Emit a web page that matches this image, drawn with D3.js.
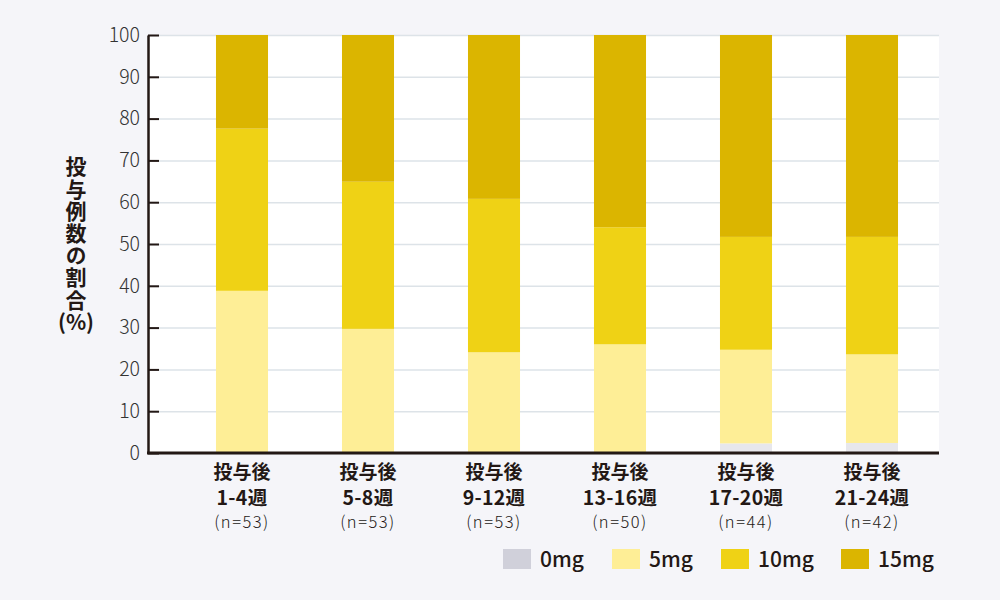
<!DOCTYPE html>
<html lang="ja">
<head>
<meta charset="utf-8">
<script src="https://cdn.jsdelivr.net/npm/d3@7"></script>
<style>
  html, body { margin: 0; padding: 0; background: #f5f5f9; }
  #chart { width: 1000px; height: 600px; }
  text { font-family: "Noto Sans CJK JP", "Noto Sans", sans-serif; fill: #231815; }
</style>
</head>
<body>
<div id="chart"></div>
<script>
// データ
const periods = ['1-4週', '5-8週', '9-12週', '13-16週', '17-20週', '21-24週'];
const counts = [53, 53, 53, 50, 44, 42];
const doses = ['0mg', '5mg', '10mg', '15mg'];
const val0mg = [0, 0, 0, 0, 2.3, 2.4];
const val5mg = [38.8, 29.7, 24.1, 26.0, 22.4, 21.2];
const val10mg = [38.8, 35.2, 36.7, 28.0, 27.0, 28.1];
const val15mg = [22.4, 35.1, 39.2, 46.0, 48.3, 48.3];
const yTicks = [0, 10, 20, 30, 40, 50, 60, 70, 80, 90, 100];

const barColors = ['#e7e7ec', '#feee96', '#efd215', '#dbb500'];
const legendColors = ['#d0d0da', '#feee96', '#efd215', '#dbb500'];

// 積み上げ用の表
const table = periods.map((p, i) => ({
  period: p,
  '0mg': val0mg[i],
  '5mg': val5mg[i],
  '10mg': val10mg[i],
  '15mg': val15mg[i],
}));

const svg = d3.select('#chart')
  .append('svg')
  .attr('width', 1000)
  .attr('height', 600);

const plot = { left: 148, right: 939, top: 35, bottom: 453 };

// 描画領域（白）
svg.append('rect')
  .attr('x', plot.left)
  .attr('y', plot.top)
  .attr('width', plot.right - plot.left)
  .attr('height', plot.bottom - plot.top)
  .attr('fill', '#ffffff');

const xScale = d3.scaleBand()
  .domain(periods)
  .range([179, 935])
  .paddingInner(0.587)
  .paddingOuter(0.2935);

const yScale = d3.scaleLinear()
  .domain([0, 100])
  .range([plot.bottom, plot.top]);

// グリッド
svg.append('g')
  .attr('transform', `translate(${plot.left},0)`)
  .call(d3.axisLeft(yScale).tickValues(yTicks).tickSize(-(plot.right - plot.left)).tickFormat(''))
  .call((g) => g.select('.domain').remove())
  .call((g) => g.selectAll('line').attr('stroke', '#dde3e8').attr('stroke-width', 1.5));

// 積み上げ棒
const stack = d3.stack().keys(doses)(table);
svg.append('g')
  .selectAll('g')
  .data(stack)
  .enter()
  .append('g')
  .attr('fill', (d, i) => barColors[i])
  .selectAll('rect')
  .data((d) => d)
  .enter()
  .append('rect')
  .attr('x', (d) => xScale(d.data.period))
  .attr('width', xScale.bandwidth())
  .attr('y', (d) => yScale(d[1]))
  .attr('height', (d) => yScale(d[0]) - yScale(d[1]));

// Y軸（目盛りは内側）
const yAxis = svg.append('g')
  .attr('transform', `translate(${plot.left},0)`)
  .call(d3.axisLeft(yScale).tickValues(yTicks).tickSizeInner(-11).tickSizeOuter(0).tickPadding(8));
yAxis.select('.domain').attr('stroke', '#231815').attr('stroke-width', 2.5);
yAxis.selectAll('.tick line').attr('stroke', '#231815').attr('stroke-width', 2);
yAxis.selectAll('.tick text')
  .style('font-size', '19.5px')
  .style('font-weight', 300)
  .style('fill', '#333');

// X軸の線
svg.append('line')
  .attr('x1', plot.left - 1)
  .attr('x2', plot.right)
  .attr('y1', plot.bottom)
  .attr('y2', plot.bottom)
  .attr('stroke', '#231815')
  .attr('stroke-width', 3);

// X軸ラベル
const xLabels = svg.append('g')
  .selectAll('g')
  .data(periods)
  .enter()
  .append('g')
  .attr('transform', (d) => `translate(${xScale(d) + xScale.bandwidth() / 2},0)`);
xLabels.append('text')
  .attr('y', 479)
  .attr('text-anchor', 'middle')
  .style('font-size', '19px')
  .style('font-weight', 700)
  .text('投与後');
xLabels.append('text')
  .attr('y', 505)
  .attr('text-anchor', 'middle')
  .style('font-size', '19.5px')
  .style('font-weight', 700)
  .style('letter-spacing', '0.3px')
  .text((d) => d);
xLabels.append('text')
  .attr('y', 528)
  .attr('text-anchor', 'middle')
  .style('font-size', '16.5px')
  .style('font-weight', 300)
  .style('letter-spacing', '1.5px')
  .text((d, i) => `(n=${counts[i]})`);

// Y軸タイトル（縦書き）
svg.append('text')
  .attr('x', 76)
  .attr('y', 156)
  .style('writing-mode', 'vertical-rl')
  .style('font-size', '21px')
  .style('font-weight', 700)
  .style('letter-spacing', '1.2px')
  .text('投与例数の割合');
svg.append('text')
  .attr('x', 76)
  .attr('y', 330)
  .attr('text-anchor', 'middle')
  .style('font-size', '21px')
  .style('font-weight', 700)
  .text('(%)');

// 凡例
const legendX = [503, 612, 721, 841];
const legend = svg.append('g')
  .selectAll('g')
  .data(doses)
  .enter()
  .append('g')
  .attr('transform', (d, i) => `translate(${legendX[i]},549)`);
legend.append('rect')
  .attr('width', 28)
  .attr('height', 20)
  .attr('fill', (d, i) => legendColors[i]);
legend.append('text')
  .attr('x', 37)
  .attr('y', 18)
  .style('font-size', '21px')
  .style('font-weight', 500)
  .text((d) => d);
</script>
</body>
</html>
